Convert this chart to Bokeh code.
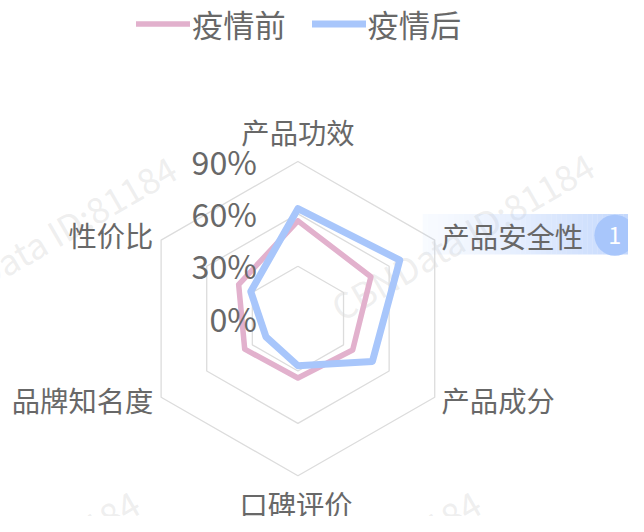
import numpy as np
from bokeh.plotting import figure
from bokeh.models import Range1d, Legend, LegendItem, ColumnDataSource
from bokeh.embed import file_html
from bokeh.resources import INLINE
from bokeh.core.properties import value

# ---------------- data ----------------
indicators = ["产品功效", "产品安全性", "产品成分", "口碑评价", "品牌知名度", "性价比"]
before = [56, 48, 36, 34, 35, 39]      # 疫情前
after = [63, 67, 49, 27, 21, 31]       # 疫情后
series_names = ["疫情前", "疫情后"]
levels = [0, 30, 60, 90]
level_labels = ["0%", "30%", "60%", "90%"]
max_value = 90
highlight_index = 1
highlight_badge = "1"
watermark = "CBNData ID:81184"

# ---------------- styles / layout ----------------
FONT = "Noto Sans CJK SC"
TXT = "#686868"
PINK = "#e2b1cd"
BLUE = "#a8c6fb"
GRID = "#dcdcdc"
W, H = 628, 516            # figure size
RW, RH = 644, 532          # design canvas
S = W / RW                 # screen scale for offsets / font sizes
PX = 1.8                   # design pixels per percent
CX, CY = 305, 328          # centre in design pixels


def fs(sz):
    return "%.1fpx" % (sz * S)


p = figure(width=W, height=H, output_backend="svg", toolbar_location=None,
           x_range=Range1d(-CX / PX, (RW - CX) / PX),
           y_range=Range1d(-(RH - CY) / PX, CY / PX),
           min_border=0)
p.axis.visible = False
p.grid.visible = False
p.outline_line_color = None
p.background_fill_color = "white"
p.border_fill_color = "white"

n = len(indicators)
theta = np.deg2rad(90 - np.arange(n) * 360.0 / n)


def polar(vals):
    vals = np.asarray(vals, dtype=float)
    xs = vals * np.cos(theta)
    ys = vals * np.sin(theta)
    return list(xs) + [xs[0]], list(ys) + [ys[0]]


def page(px, py):
    return ((px - CX) / PX, (CY - py) / PX)


# watermarks
wm_pos = [page(45, 245), page(473, 242), page(7, 590), page(357, 590)]
p.text(x=[a for a, b in wm_pos], y=[b for a, b in wm_pos], text=[watermark] * len(wm_pos),
       angle=np.deg2rad(30), text_align="center", text_baseline="middle",
       text_font=value(FONT), text_font_size=fs(36), text_color="#c8c8c8", text_alpha=0.3)

# grid rings
for lv in levels[1:]:
    gx, gy = polar([lv] * n)
    p.line(gx, gy, line_color=GRID, line_width=1.3)

# highlight pill behind 产品安全性
x0p, x1p, y0p, y1p = 433, 644, 220, 262
steps = 40
edges = np.linspace(x0p, x1p, steps + 1)
lefts, rights, alphas = [], [], []
for i in range(steps):
    lefts.append(page(edges[i], 0)[0])
    rights.append(page(edges[i + 1], 0)[0])
    alphas.append(0.08 + 0.6 * (i / (steps - 1)) ** 1.3)
p.quad(left=lefts, right=rights, bottom=page(0, y1p)[1], top=page(0, y0p)[1],
       fill_color=BLUE, fill_alpha=alphas, line_color=None)

# series
bx, by = polar(before)
ax, ay = polar(after)
r1 = p.line(bx, by, line_color=PINK, line_width=5.5, line_join="round", line_cap="round")
r2 = p.line(ax, ay, line_color=BLUE, line_width=7, line_join="round", line_cap="round")

# indicator labels (offsets in design pixels)
ox = [0, 7, 7, -2, -8, -8]
oy = [-31, -5, 2, 28, 2, -6]
aligns = ["center", "left", "left", "center", "right", "right"]
vx = max_value * np.cos(theta)
vy = max_value * np.sin(theta)
src = ColumnDataSource(dict(x=vx, y=vy, t=indicators,
                            xo=[o * S for o in ox], yo=[o * S for o in oy], al=aligns))
p.text(x="x", y="y", text="t", x_offset="xo", y_offset="yo", text_align="al",
       text_baseline="middle", text_font=value(FONT), text_font_size=fs(29),
       text_color=TXT, source=src)

# badge
bxp, byp = page(630, 242)
p.scatter(x=[bxp], y=[byp], size=42 * S, fill_color=BLUE, line_color=None)
p.text(x=[bxp], y=[byp], text=[highlight_badge], text_align="center", text_baseline="middle",
       text_font=value(FONT), text_font_size=fs(24), text_color="white")

# level labels
p.text(x=[0] * len(levels), y=levels, text=level_labels, x_offset=-42 * S, y_offset=-1 * S,
       text_align="right", text_baseline="middle", text_font=value(FONT),
       text_font_size=fs(33), text_color=TXT)

legend = Legend(items=[LegendItem(label=series_names[0], renderers=[r1]),
                       LegendItem(label=series_names[1], renderers=[r2])],
                location=(int(140 * S), int(H - 47 * S)), orientation="horizontal",
                glyph_width=int(56 * S), glyph_height=int(32 * S), label_height=int(32 * S),
                label_text_font=FONT, label_text_font_size=fs(32), label_text_color=TXT,
                label_standoff=int(3 * S), spacing=int(27 * S), padding=0, margin=0,
                border_line_color=None, background_fill_alpha=0)
p.add_layout(legend)

open("out.html", "w").write(file_html(p, INLINE))
